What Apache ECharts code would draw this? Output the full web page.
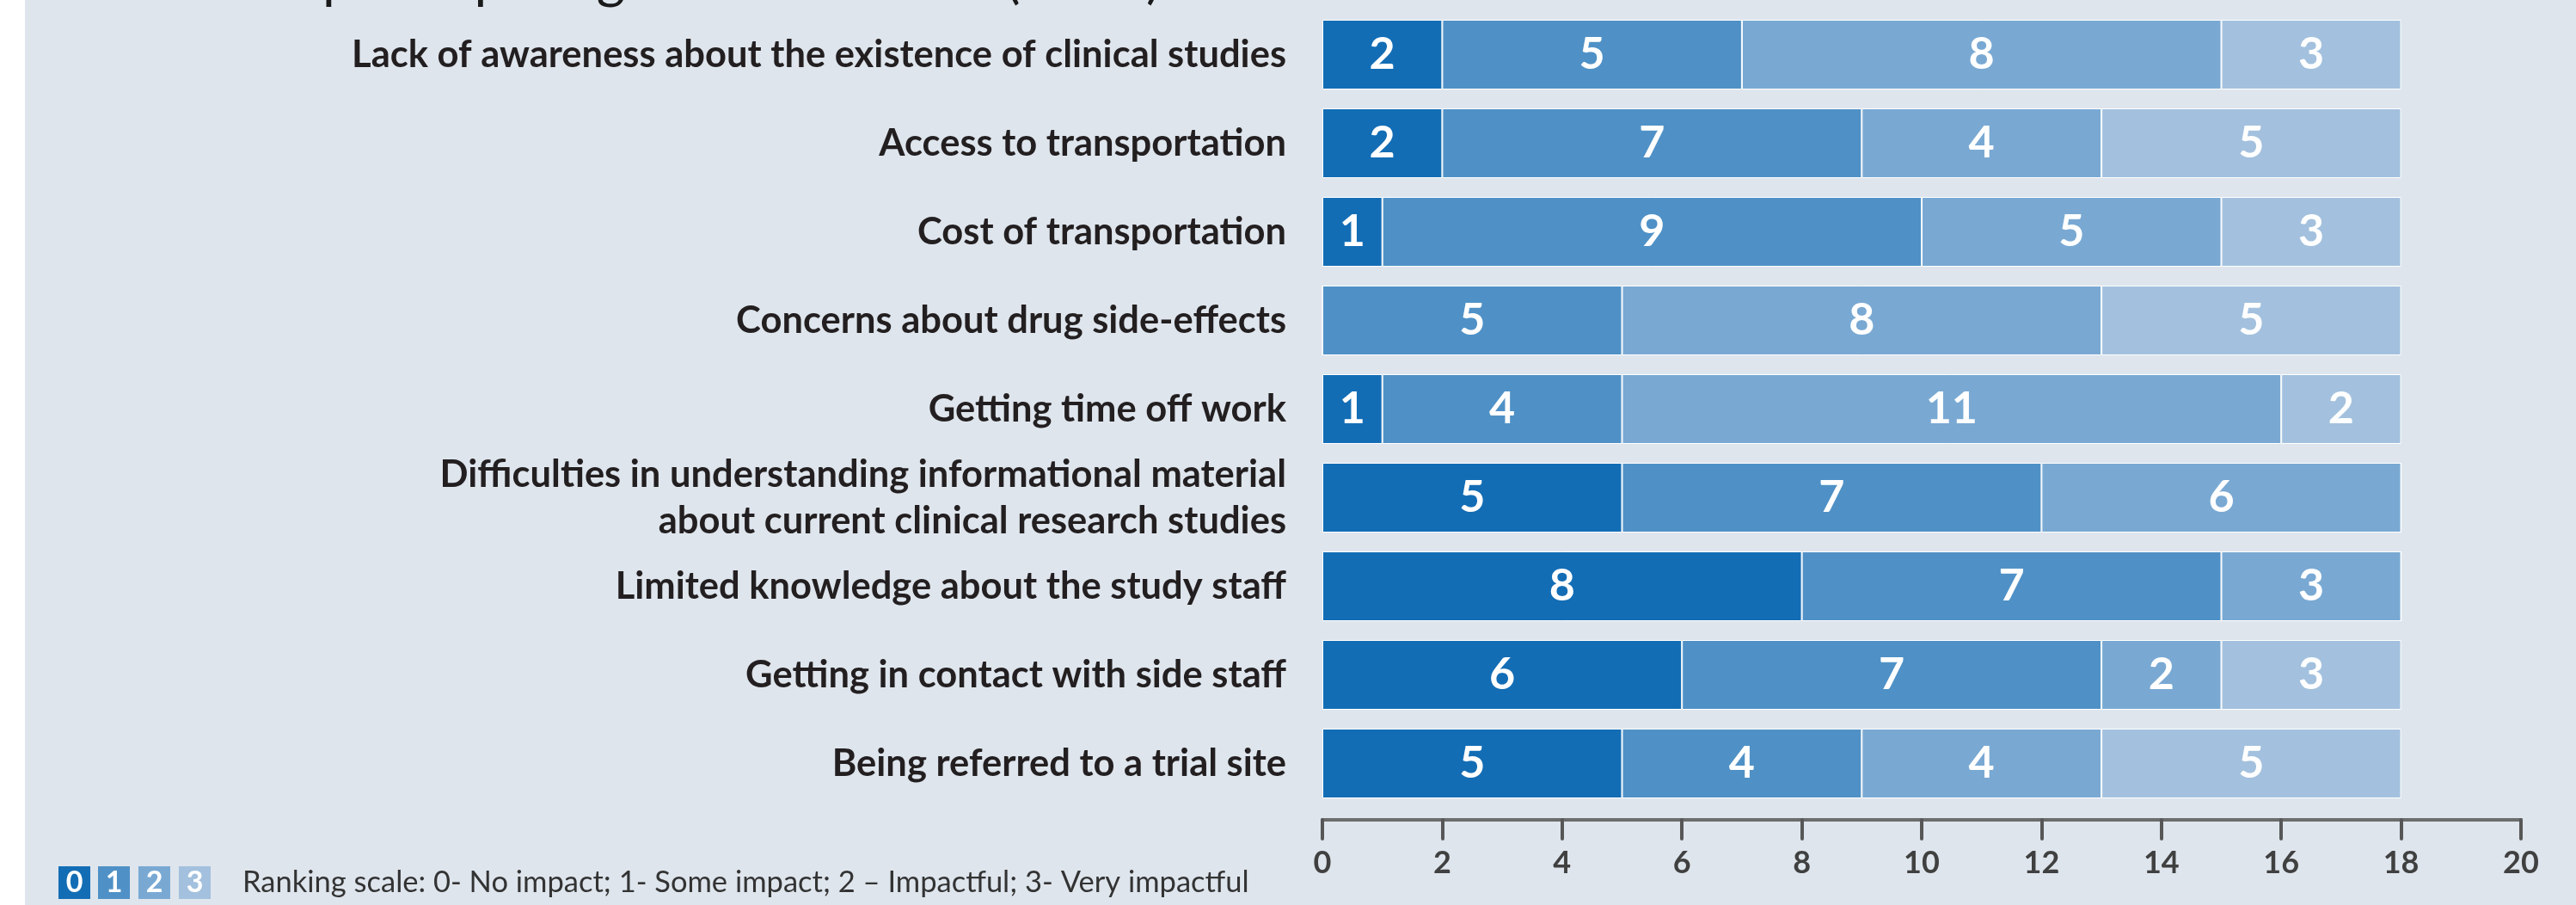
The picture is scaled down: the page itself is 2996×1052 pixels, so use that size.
<!DOCTYPE html>
<html>
<head>
<meta charset="utf-8">
<script src="https://cdn.jsdelivr.net/npm/echarts@6/dist/echarts.min.js"></script>
<style>
html,body{margin:0;padding:0;background:#ffffff;}
#chart{width:2996px;height:1052px;}
</style>
</head>
<body>
<div id="chart"></div>
<script>
// Data
const categories = [
  'Lack of awareness about the existence of clinical studies',
  'Access to transportation',
  'Cost of transportation',
  'Concerns about drug side-effects',
  'Getting time off work',
  'Difficulties in understanding informational material\nabout current clinical research studies',
  'Limited knowledge about the study staff',
  'Getting in contact with side staff',
  'Being referred to a trial site'
];
const seriesNames = ['0', '1', '2', '3'];
const rank0 = [2, 2, 1, 0, 1, 5, 8, 6, 5];
const rank1 = [5, 7, 9, 5, 4, 7, 7, 7, 4];
const rank2 = [8, 4, 5, 8, 11, 6, 3, 2, 4];
const rank3 = [3, 5, 3, 5, 2, 0, 0, 3, 5];
const xTicks = [0, 2, 4, 6, 8, 10, 12, 14, 16, 18, 20];
const legendText = 'Ranking scale: 0- No impact; 1- Some impact; 2 \u2013 Impactful; 3- Very impactful';
const titleText = 'Barriers to participating in clinical trials (n=18)';

const colors = ['#136db5', '#4f91c6', '#79a9d3', '#a3c1de'];
const FONT = 'Lato';

const chart = echarts.init(document.getElementById('chart'), null, {renderer: 'canvas'});

const allSeries = [rank0, rank1, rank2, rank3].map((vals, i) => ({
  name: seriesNames[i],
  type: 'bar',
  stack: 'total',
  barWidth: 81,
  data: vals,
  itemStyle: {color: colors[i], borderColor: '#ffffff', borderWidth: 1},
  label: {
    show: true,
    position: 'inside',
    color: '#ffffff',
    fontFamily: FONT,
    fontWeight: 'bold',
    fontSize: 52,
    formatter: p => (p.value > 0 ? String(p.value) : '')
  },
  emphasis: {disabled: true}
}));

const legendBoxes = [
  {x: 68, w: 37}, {x: 114, w: 37}, {x: 161, w: 37}, {x: 208, w: 37}
];
const graphics = [
  {type: 'rect', shape: {x: 0, y: 0, width: 29, height: 1052}, style: {fill: '#ffffff'}, silent: true},
  {type: 'text', x: 64, y: -24, style: {text: titleText, fill: '#1a1a1a', font: '64px ' + FONT, textAlign: 'left', textVerticalAlign: 'middle'}, silent: true}
];
legendBoxes.forEach((b, i) => {
  graphics.push({type: 'rect', shape: {x: b.x, y: 1007, width: b.w, height: 38}, style: {fill: colors[i]}, silent: true});
  graphics.push({type: 'text', x: b.x + b.w / 2, y: 1026, style: {text: seriesNames[i], fill: '#ffffff', font: 'bold 34px ' + FONT, textAlign: 'center', textVerticalAlign: 'middle'}, silent: true});
});
graphics.push({type: 'text', x: 282, y: 1026, style: {text: legendText, fill: '#333333', font: '34.5px ' + FONT, textAlign: 'left', textVerticalAlign: 'middle'}, silent: true});

chart.setOption({
  backgroundColor: '#dee5ed',
  animation: false,
  grid: {left: 1538, right: 64, top: 12, height: 927, containLabel: false},
  xAxis: {
    type: 'value',
    min: 0,
    max: 20,
    interval: 2,
    offset: 14,
    axisLine: {show: true, lineStyle: {color: '#6d6d6d', width: 4}},
    axisTick: {show: true, inside: false, length: 22, lineStyle: {color: '#575757', width: 4, cap: 'round'}},
    splitLine: {show: false},
    axisLabel: {
      margin: 32,
      color: '#404040',
      fontFamily: FONT,
      fontWeight: 'bold',
      fontSize: 36,
      formatter: v => (xTicks.indexOf(v) >= 0 ? String(v) : '')
    }
  },
  yAxis: {
    type: 'category',
    inverse: true,
    data: categories,
    axisLine: {show: false},
    axisTick: {show: false},
    axisLabel: {
      margin: 42,
      color: '#231f20',
      fontFamily: FONT,
      fontWeight: 'bold',
      fontSize: 43.5,
      lineHeight: 54,
      align: 'right'
    }
  },
  series: allSeries,
  graphic: graphics
});
</script>
</body>
</html>
